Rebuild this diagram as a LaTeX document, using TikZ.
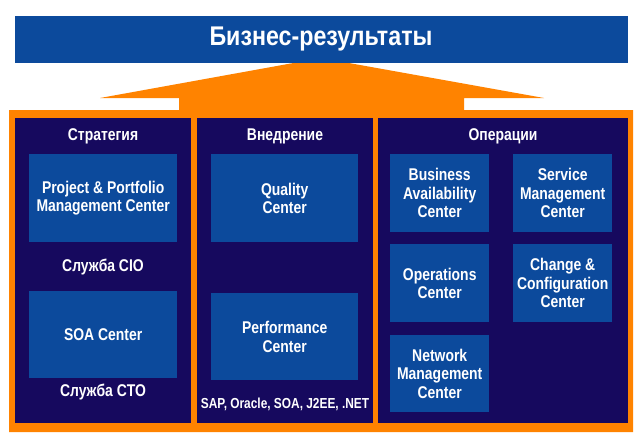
\documentclass[tikz,border=0pt]{standalone}
\usepackage{fontspec}
\setmainfont{Liberation Sans}[FakeStretch=0.82]
\newfontfamily\titlefont{Liberation Sans}[FakeStretch=0.86]
\definecolor{barblue}{HTML}{0C4A9C}
\definecolor{navy}{HTML}{16095E}
\definecolor{orng}{HTML}{FF8300}
\tikzset{
  panel/.style={fill=navy, draw=none, inner sep=0pt, anchor=north west},
  prodbox/.style={fill=barblue, draw=none, inner sep=0pt, anchor=north west, align=center,
    text=white, font=\bfseries\fontsize{17}{18.5}\selectfont},
  lbl/.style={text=white, inner sep=0pt, align=center, font=\bfseries\fontsize{17}{18}\selectfont},
  smalllbl/.style={text=white, inner sep=0pt, align=center, font=\bfseries\fontsize{14.5}{17}\selectfont},
}
\begin{document}
\begin{tikzpicture}[x=1pt,y=-1pt]
\useasboundingbox[fill=white] (0,0) rectangle (640,447);
% orange frame with arrow
\fill[orng] (9,110) -- (179,110) -- (179,98) -- (100,98) -- (321,58) -- (544,98) -- (464,98) -- (464,110)
  -- (633,110) -- (633,432) -- (9,432) -- cycle;
% top bar
\node[fill=barblue, inner sep=0pt, minimum width=613pt, minimum height=47pt, anchor=north west] (bar) at (15,16) {};
\node[text=white, font=\titlefont\bfseries\fontsize{27}{29}\selectfont, inner sep=0pt] (title) at (321,39) {Бизнес-результаты};
% panels
\node[panel, minimum width=176pt, minimum height=305pt] (pstrat) at (15,118) {};
\node[panel, minimum width=176pt, minimum height=305pt] (pimpl) at (197,118) {};
\node[panel, minimum width=250pt, minimum height=305pt] (pops) at (378,118) {};
% headings
\node[lbl] (hstrat) at (103,136) {Стратегия};
\node[lbl] (himpl) at (285,136) {Внедрение};
\node[lbl] (hops) at (503,136) {Операции};
% strategy
\node[prodbox, minimum width=148pt, minimum height=88pt] (ppm) at (29,154) {Project \& Portfolio\\Management Center};
\node[lbl] (cio) at (103,267) {Служба CIO};
\node[prodbox, minimum width=148pt, minimum height=87pt] (soa) at (29,291) {SOA Center};
\node[lbl] (cto) at (103,392) {Служба CTO};
% implementation
\node[prodbox, minimum width=147pt, minimum height=88pt] (qc) at (211,154) {Quality\\Center};
\node[prodbox, minimum width=147pt, minimum height=87pt] (pc) at (211,293) {Performance\\Center};
\node[smalllbl] (plat) at (285,404) {SAP, Oracle, SOA, J2EE, .NET};
% operations
\node[prodbox, minimum width=99pt, minimum height=78pt] (bac) at (390,154) {Business\\Availability\\Center};
\node[prodbox, minimum width=99pt, minimum height=78pt] (smc) at (513,154) {Service\\Management\\Center};
\node[prodbox, minimum width=99pt, minimum height=78pt] (oc) at (390,244) {Operations\\Center};
\node[prodbox, minimum width=99pt, minimum height=78pt] (ccc) at (513,244) {Change \&\\Configuration\\Center};
\node[prodbox, minimum width=99pt, minimum height=77pt] (nmc) at (390,335) {Network\\Management\\Center};
\end{tikzpicture}
\end{document}
